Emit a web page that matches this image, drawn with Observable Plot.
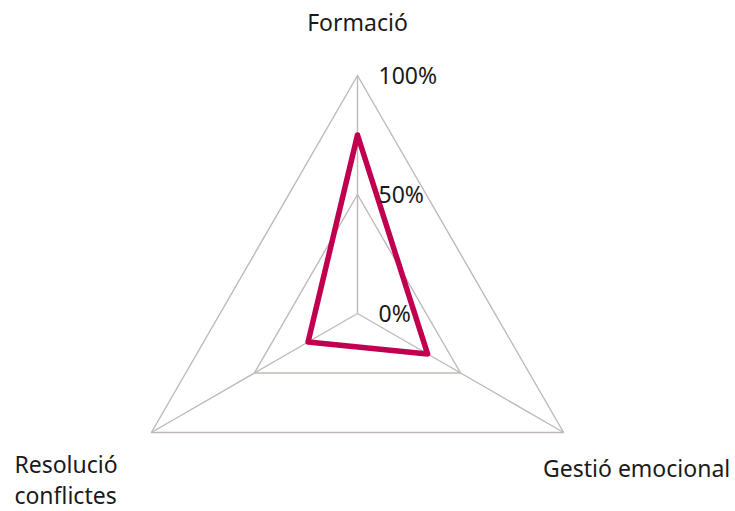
<!DOCTYPE html>
<html><head><meta charset="utf-8">
<script src="https://cdn.jsdelivr.net/npm/d3@7"></script>
<script src="https://cdn.jsdelivr.net/npm/@observablehq/plot@0.6"></script>
<style>body{margin:0;background:#fff;} #chart{width:735px;height:511px;}</style>
</head><body><div id="chart"></div>
<script>
const categories = ["Formació", "Gestió emocional", "Resolució conflictes"];
const values = [75, 34, 24];
const ringLevels = [0, 50, 100];
const ringLabels = ["0%", "50%", "100%"];
const maxValue = 100;

const n = categories.length;
const angle = i => Math.PI / 2 - i * 2 * Math.PI / n;
const px = (i, v) => Math.cos(angle(i)) * v / maxValue;
const py = (i, v) => Math.sin(angle(i)) * v / maxValue;

const series = categories.map((c, i) => ({category: c, value: values[i], x: px(i, values[i]), y: py(i, values[i])}));
const seriesClosed = series.concat([series[0]]);
const rings = ringLevels.flatMap(level =>
  categories.concat([categories[0]]).map((c, k) => ({level, x: px(k % n, level), y: py(k % n, level)})));
const spokes = categories.map((c, i) => ({category: c, x: px(i, maxValue), y: py(i, maxValue)}));
const ticks = ringLevels.map((level, k) => ({label: ringLabels[k], x: 0, y: level / maxValue}));

const font = "'Noto Sans', sans-serif";
const fs = 23;
const lh = 31.5 / fs;
const R = 238, cx = 357, cy = 313, W = 735, H = 511;

const chart = Plot.plot({
  width: W, height: H,
  margin: 0,
  x: {domain: [-cx / R, (W - cx) / R], axis: null},
  y: {domain: [-(H - cy) / R, cy / R], axis: null},
  style: {fontFamily: font, background: "#fff", color: "#1a1a1a"},
  marks: [
    Plot.line(rings.filter(d => d.level > 0), {x: "x", y: "y", z: "level", stroke: "#bfbab7", strokeWidth: 1.4}),
    Plot.link(spokes, {x1: 0, y1: 0, x2: "x", y2: "y", stroke: "#bfbab7", strokeWidth: 1.4}),
    Plot.line(seriesClosed, {x: "x", y: "y", stroke: "#c0004f", strokeWidth: 5.5, strokeLinejoin: "round"}),
    Plot.text(ticks, {x: "x", y: "y", text: "label", textAnchor: "start", dx: 21, dy: 1.3, fontSize: fs, fill: "#1a1a1a"}),
    Plot.text(spokes.filter(d => d.category === categories[0]), {x: "x", y: "y", text: "category", textAnchor: "middle", lineAnchor: "bottom", dy: -45, fontSize: fs, fill: "#1a1a1a"}),
    Plot.text(spokes.filter(d => d.category === categories[1]), {x: "x", y: "y", text: "category", textAnchor: "middle", lineAnchor: "bottom", dx: 73, dy: 44, fontSize: fs, fill: "#1a1a1a"}),
    Plot.text(spokes.filter(d => d.category === categories[2]), {x: "x", y: "y", text: d => d.category.replace(" ", "\n"), textAnchor: "start", lineAnchor: "top", dx: -137, dy: 40 - 0.71 * lh * fs, lineHeight: lh, fontSize: fs, fill: "#1a1a1a"})
  ]
});
document.getElementById("chart").append(chart);
</script>
</body></html>
